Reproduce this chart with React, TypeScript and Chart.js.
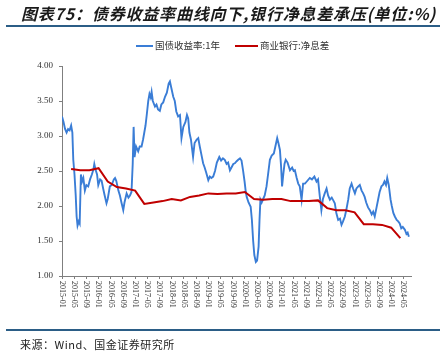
import React, { useEffect, useRef } from "react";
import { Chart, registerables } from "chart.js";

Chart.register(...registerables);

// X tick labels (every 4 months from 2015-01)
const xTickLabels = [
  "2015-01", "2015-05", "2015-09",
  "2016-01", "2016-05", "2016-09",
  "2017-01", "2017-05", "2017-09",
  "2018-01", "2018-05", "2018-09",
  "2019-01", "2019-05", "2019-09",
  "2020-01", "2020-05", "2020-09",
  "2021-01", "2021-05", "2021-09",
  "2022-01", "2022-05", "2022-09",
  "2023-01", "2023-05", "2023-09",
  "2024-01", "2024-05",
];

const yTickValues = [1.0, 1.5, 2.0, 2.5, 3.0, 3.5, 4.0];

// 国债收益率:1年 — x in months since 2015-01
const bondMonths = [
  0, 0.5, 1, 1.5, 2, 2.5, 3, 3.4, 3.7, 4.1, 4.5, 4.8, 5.1, 5.5, 5.8, 6.2, 6.6, 7.0, 7.5, 8.0,
  8.6, 9.2, 9.8, 10.3, 10.6, 11.0, 11.5, 11.9, 12.5, 13.0, 13.5, 14.0, 14.6, 15.0, 15.7, 16.3, 17.0, 17.4, 17.8, 18.5,
  19.0, 19.5, 20.1, 20.5, 21.2, 21.8, 22.3, 22.8, 23.2, 23.5, 23.8, 24.3, 25.0, 25.5, 26.1, 26.6, 27.0, 27.4, 27.8, 28.3,
  28.7, 29.1, 29.4, 29.8, 30.5, 31.0, 31.5, 32.1, 32.6, 33.2, 33.8, 34.4, 35.0, 35.4, 35.8, 36.5, 37.0, 37.5, 38.1, 38.7,
  39.2, 39.8, 40.5, 41.0, 41.4, 41.8, 42.3, 43.0, 43.5, 44.2, 44.7, 45.2, 45.8, 46.3, 46.8, 47.3, 48.0, 48.5, 49.0, 49.6,
  50.2, 50.8, 51.6, 52.2, 52.8, 53.4, 54.0, 54.5, 55.1, 55.6, 56.2, 56.7, 57.3, 57.8, 58.4, 58.9, 59.4, 59.9, 60.3, 60.6,
  61.2, 61.9, 62.3, 62.7, 63.1, 63.6, 64.0, 64.5, 64.8, 65.1, 65.5, 66.0, 66.5, 67.1, 67.6, 68.2, 68.8, 69.5, 70.0, 70.6,
  71.0, 71.5, 71.9, 72.2, 72.6, 73.0, 73.4, 74.0, 74.8, 75.5, 76.0, 76.4, 77.0, 77.5, 78.0, 78.6, 79.1, 79.7, 80.3, 81.3,
  82.0, 82.8, 83.5, 84.0, 84.6, 85.1, 85.6, 86.2, 86.8, 87.3, 87.9, 88.5, 89.0, 89.5, 90.0, 90.6, 91.2, 91.7, 92.2, 92.8,
  93.3, 93.9, 94.4, 95.0, 95.5, 96.1, 96.6, 97.2, 97.7, 98.3, 98.8, 99.3, 99.8, 100.4, 101.0, 101.6, 102.1, 102.6, 103.2, 103.7,
  104.2, 104.8, 105.3, 105.8, 106.3, 106.7, 107.2, 107.8, 108.2, 108.7, 109.2, 109.8, 110.3, 110.8, 111.3, 111.8, 112.5, 113.0, 113.4, 113.8,
];
const bondYields = [
  3.28, 3.20, 3.10, 3.05, 3.10, 3.08, 3.15, 3.05, 2.66, 2.45, 2.15, 1.85, 1.72, 1.78, 1.75, 2.45, 2.35, 2.40, 2.22, 2.30,
  2.28, 2.38, 2.45, 2.52, 2.60, 2.52, 2.45, 2.30, 2.38, 2.36, 2.25, 2.15, 2.04, 2.10, 2.28, 2.30, 2.38, 2.40, 2.36, 2.22,
  2.15, 2.05, 1.94, 2.05, 2.18, 2.12, 2.15, 2.20, 2.60, 3.13, 2.70, 2.85, 2.78, 2.85, 2.85, 2.95, 3.05, 3.15, 3.30, 3.50,
  3.60, 3.55, 3.63, 3.50, 3.42, 3.45, 3.38, 3.36, 3.45, 3.48, 3.56, 3.62, 3.75, 3.78, 3.70, 3.56, 3.50, 3.35, 3.28, 3.30,
  2.97, 3.13, 3.20, 3.30, 3.25, 3.05, 2.95, 2.70, 2.90, 2.95, 2.97, 2.85, 2.72, 2.61, 2.55, 2.48, 2.37, 2.42, 2.40, 2.42,
  2.50, 2.62, 2.70, 2.65, 2.68, 2.66, 2.60, 2.62, 2.51, 2.55, 2.60, 2.61, 2.64, 2.66, 2.68, 2.65, 2.51, 2.35, 2.20, 2.13,
  2.05, 1.99, 1.80, 1.51, 1.30, 1.20, 1.22, 1.42, 1.80, 2.09, 2.05, 2.10, 2.15, 2.28, 2.45, 2.66, 2.72, 2.75, 2.85, 2.97,
  2.90, 2.80, 2.55, 2.28, 2.45, 2.60, 2.66, 2.62, 2.51, 2.55, 2.50, 2.51, 2.40, 2.32, 2.28, 2.09, 2.32, 2.32, 2.35, 2.40,
  2.38, 2.42, 2.35, 2.38, 2.13, 1.94, 2.10, 2.18, 2.25, 2.15, 2.09, 2.12, 2.08, 2.04, 1.90, 1.80, 1.82, 1.73, 1.78, 1.85,
  1.95, 2.09, 2.25, 2.32, 2.25, 2.18, 2.25, 2.28, 2.30, 2.22, 2.18, 2.13, 2.05, 1.98, 1.94, 1.88, 1.92, 1.85, 1.98, 2.09,
  2.20, 2.28, 2.30, 2.35, 2.30, 2.40, 2.30, 2.09, 2.00, 1.90, 1.85, 1.80, 1.78, 1.75, 1.68, 1.70, 1.66, 1.60, 1.62, 1.56,
];

// 商业银行:净息差 — quarterly, x at quarter end (months since 2015-01)
const nimMonths = [
  3, 6, 9, 12, 15, 18, 21, 24, 27, 30, 33, 36, 39, 42, 45, 48, 51, 54, 57, 60,
  63, 66, 69, 72, 75, 78, 81, 84, 87, 90, 93, 96, 99, 102, 105, 108, 111,
];
const nimValues = [
  2.53, 2.51, 2.51, 2.54, 2.35, 2.27, 2.25, 2.22, 2.03, 2.05, 2.07, 2.10, 2.08, 2.13, 2.15, 2.18, 2.17, 2.18, 2.18, 2.20,
  2.10, 2.09, 2.10, 2.10, 2.07, 2.07, 2.07, 2.08, 1.97, 1.94, 1.94, 1.91, 1.74, 1.74, 1.73, 1.69, 1.54,
];

const seriesNames = ["国债收益率:1年", "商业银行:净息差"];
const seriesColors = ["#3a7dd6", "#c00000"];

const xLabelPlugin = {
  id: "verticalXLabels",
  afterDraw(chart: any) {
    const sx = chart.scales.x;
    const ctx = chart.ctx;
    ctx.save();
    ctx.font = "8px 'Liberation Serif'";
    ctx.fillStyle = "#333333";
    ctx.textAlign = "left";
    ctx.textBaseline = "middle";
    sx.ticks.forEach((t: any) => {
      const idx = Math.round(t.value / 4);
      const label = xTickLabels[idx];
      if (!label) return;
      const x = sx.getPixelForValue(t.value);
      ctx.save();
      ctx.translate(x, sx.top + 5);
      ctx.rotate(Math.PI / 2);
      ctx.fillText(label, 0, 0);
      ctx.restore();
    });
    ctx.restore();
  },
};

function App() {
  const canvasRef = useRef<HTMLCanvasElement | null>(null);

  useEffect(() => {
    if (!canvasRef.current) return;
    const chart = new Chart(canvasRef.current, {
      type: "line",
      data: {
        datasets: [
          {
            label: seriesNames[0],
            data: bondMonths.map((m, i) => ({ x: m, y: bondYields[i] })),
            borderColor: seriesColors[0],
            borderWidth: 1.9,
            pointRadius: 0,
            tension: 0,
            order: 1,
          },
          {
            label: seriesNames[1],
            data: nimMonths.map((m, i) => ({ x: m, y: nimValues[i] })),
            borderColor: seriesColors[1],
            borderWidth: 2,
            pointRadius: 0,
            tension: 0,
            order: 0,
          },
        ],
      },
      options: {
        responsive: false,
        animation: false,
        devicePixelRatio: 1,
        layout: { padding: { top: 66, right: 32, bottom: 0, left: 0 } },
        plugins: {
          legend: { display: false },
          tooltip: { enabled: false },
        },
        scales: {
          x: {
            type: "linear",
            min: 0,
            max: 114.5,
            afterFit: (s: any) => {
              s.height = 88;
            },
            ticks: { stepSize: 4, includeBounds: false, display: false },
            grid: {
              drawOnChartArea: false,
              drawTicks: true,
              tickLength: 3,
              color: "#7f7f7f",
            },
            border: { display: true, color: "#7f7f7f" },
          },
          y: {
            min: 1,
            max: 4,
            afterFit: (s: any) => {
              s.width = 62;
            },
            afterBuildTicks: (s: any) => {
              s.ticks = yTickValues.map((v) => ({ value: v }));
            },
            ticks: {
              callback: (v: any) => Number(v).toFixed(2),
              font: { family: "'Liberation Serif'", size: 9 },
              color: "#333333",
              padding: 6,
            },
            grid: {
              drawOnChartArea: false,
              drawTicks: true,
              tickLength: 3,
              color: "#7f7f7f",
            },
            border: { display: true, color: "#7f7f7f" },
          },
        },
      },
      plugins: [xLabelPlugin],
    });
    return () => chart.destroy();
  }, []);

  const cjk = "'Noto Sans CJK SC', sans-serif";

  return (
    <div
      style={{
        position: "absolute",
        left: 0,
        top: 0,
        width: 443,
        height: 364,
        background: "#ffffff",
        overflow: "hidden",
      }}
    >
      <canvas
        ref={canvasRef}
        width={443}
        height={364}
        style={{ position: "absolute", left: 0, top: 0, width: 443, height: 364 }}
      />
      <div
        style={{
          position: "absolute",
          left: 21,
          top: 3,
          fontFamily: cjk,
          fontSize: 16,
          fontWeight: "bold",
          fontStyle: "italic",
          color: "#1a1a1a",
          whiteSpace: "nowrap",
          lineHeight: "20px",
          letterSpacing: 0.8,
        }}
      >
        图表75：债券收益率曲线向下,银行净息差承压(单位:%)
      </div>
      <div
        style={{
          position: "absolute",
          left: 6,
          top: 25,
          width: 434,
          height: 2,
          background: "#2b5d86",
        }}
      />
      <div style={{ position: "absolute", left: 136, top: 45, width: 17, height: 2, background: seriesColors[0] }} />
      <div
        style={{
          position: "absolute",
          left: 155,
          top: 38,
          fontFamily: cjk,
          fontSize: 9.5,
          color: "#333333",
          whiteSpace: "nowrap",
          lineHeight: "14px",
        }}
      >
        {seriesNames[0]}
      </div>
      <div style={{ position: "absolute", left: 235, top: 45, width: 23, height: 2, background: seriesColors[1] }} />
      <div
        style={{
          position: "absolute",
          left: 260,
          top: 38,
          fontFamily: cjk,
          fontSize: 9.5,
          color: "#333333",
          whiteSpace: "nowrap",
          lineHeight: "14px",
        }}
      >
        {seriesNames[1]}
      </div>
      <div
        style={{
          position: "absolute",
          left: 6,
          top: 329,
          width: 434,
          height: 2,
          background: "#2b5d86",
        }}
      />
      <div
        style={{
          position: "absolute",
          left: 20,
          top: 336,
          fontFamily: cjk,
          fontSize: 11,
          color: "#222222",
          whiteSpace: "nowrap",
          lineHeight: "16px",
          letterSpacing: 0.5,
        }}
      >
        来源：Wind、国金证券研究所
      </div>
    </div>
  );
}

export default App;
